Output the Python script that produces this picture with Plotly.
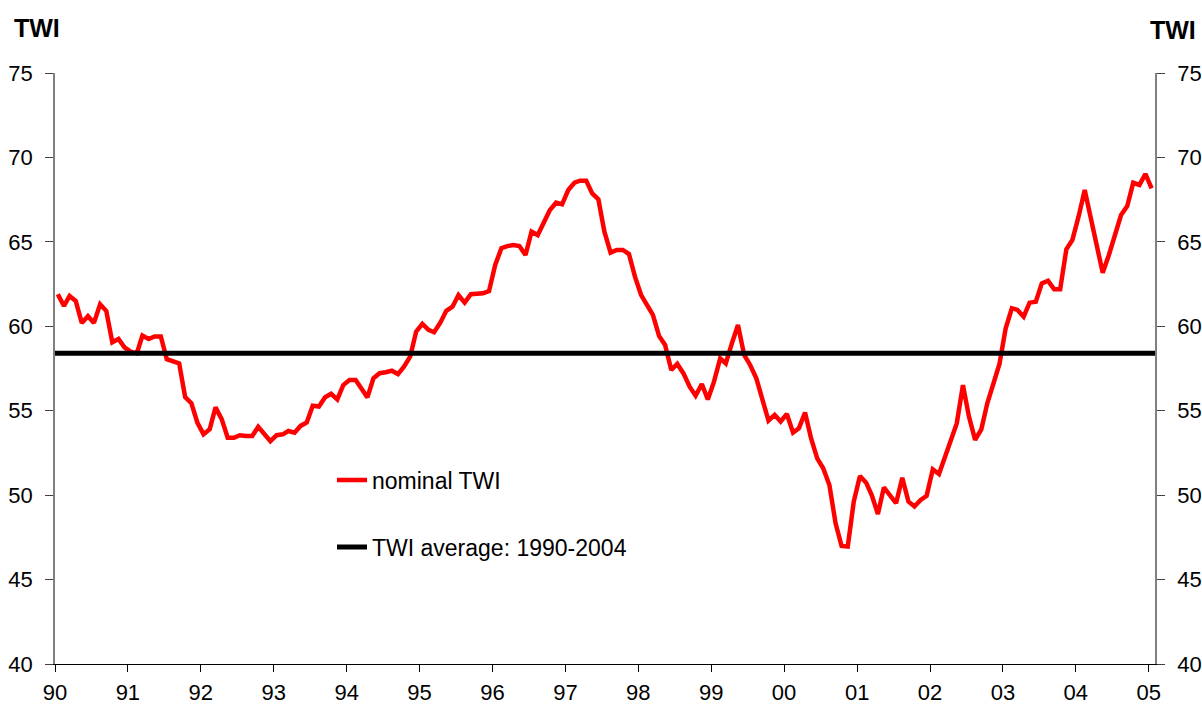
import pandas as pd
import plotly.graph_objects as go

# Monthly nominal TWI, Jan 1990 .. Jan 2005
TWI_1990_1993 = [61.9, 61.2, 61.8, 61.5, 60.2, 60.6, 60.2, 61.3, 60.9, 59.05, 59.25, 58.75,
                 58.5, 58.4, 59.45, 59.25, 59.4, 59.4, 58.05, 57.95, 57.8, 55.8, 55.45, 54.3,
                 53.6, 53.9, 55.2, 54.5, 53.4, 53.4, 53.55, 53.5, 53.5, 54.05, 53.6, 53.2,
                 53.55, 53.6, 53.8, 53.7, 54.1, 54.3, 55.3, 55.25, 55.8, 56.0, 55.67, 56.52]
TWI_1994_1997 = [56.82, 56.82, 56.33, 55.79, 56.92, 57.22, 57.28, 57.37, 57.17, 57.61, 58.2, 59.68,
                 60.14, 59.79, 59.65, 60.21, 60.92, 61.16, 61.85, 61.4, 61.9, 61.95, 61.95, 62.08,
                 63.63, 64.62, 64.75, 64.81, 64.75, 64.22, 65.6, 65.4, 66.1, 66.89, 67.32, 67.22,
                 68.07, 68.5, 68.62, 68.62, 67.87, 67.51, 65.6, 64.36, 64.52, 64.52, 64.28, 62.94]
TWI_1998_2001 = [61.85, 61.26, 60.67, 59.42, 58.9, 57.41, 57.77, 57.21, 56.42, 55.89, 56.58, 55.67,
                 56.72, 58.1, 57.8, 59.0, 60.08, 58.3, 57.71, 56.92, 55.74, 54.41, 54.75, 54.36,
                 54.81, 53.7, 53.96, 54.89, 53.37, 52.18, 51.59, 50.6, 48.33, 46.99, 46.95, 49.61,
                 51.13, 50.74, 50.01, 48.88, 50.46, 50.01, 49.52, 51.03, 49.62, 49.33, 49.72, 49.96]
TWI_2002_2005 = [51.53, 51.25, 52.18, 53.07, 54.25, 56.52, 54.65, 53.27, 53.9, 55.44, 56.66, 57.77,
                 59.88, 61.07, 60.97, 60.57, 61.4, 61.46, 62.54, 62.7, 62.19, 62.19, 64.56, 65.11,
                 66.49, 68.07, 66.49, 64.81, 63.17, 64.22, 65.4, 66.59, 67.12, 68.5, 68.37, 69.02,
                 68.17]
nominal_twi = TWI_1990_1993 + TWI_1994_1997 + TWI_1998_2001 + TWI_2002_2005

TWI_AVERAGE = 58.4

months = pd.date_range(start="1990-01-01", periods=len(nominal_twi), freq="MS") + pd.Timedelta(days=14)

YEAR_TICKS = [f"{y}-01-01" for y in range(1990, 2006)]
YEAR_LABELS = ["90", "91", "92", "93", "94", "95", "96", "97", "98", "99",
               "00", "01", "02", "03", "04", "05"]

FONT = "Liberation Sans, Arial, sans-serif"

fig = go.Figure()
fig.add_trace(go.Scatter(
    x=months, y=nominal_twi, mode="lines", name="nominal TWI",
    line=dict(color="#FF0000", width=4.5), legend="legend", showlegend=True))
fig.add_trace(go.Scatter(
    x=["1990-01-01", "2005-02-01"], y=[TWI_AVERAGE, TWI_AVERAGE], mode="lines",
    name="TWI average: 1990-2004", yaxis="y2",
    line=dict(color="#000000", width=5), legend="legend2", showlegend=True))

L, R, T, B = 55, 47, 73, 40
W, H = 1202, 704
pw, ph = W - L - R, H - T - B

def px_x(px):
    return (px - L) / pw

def px_y(py):
    return (H - B - py) / ph

axis_font = dict(size=22, family=FONT, color="black")

fig.update_layout(
    width=W, height=H,
    margin=dict(l=L, r=R, t=T, b=B, pad=0, autoexpand=False),
    paper_bgcolor="white", plot_bgcolor="white",
    font=dict(family=FONT, size=22, color="black"),
    showlegend=True,
    legend=dict(x=px_x(332), y=px_y(480), xanchor="left", yanchor="middle",
                bgcolor="rgba(0,0,0,0)", font=dict(size=23, family=FONT)),
    legend2=dict(x=px_x(332), y=px_y(547), xanchor="left", yanchor="middle",
                 bgcolor="rgba(0,0,0,0)", font=dict(size=23, family=FONT)),
    xaxis=dict(
        type="date", range=["1990-01-01", "2005-02-01"],
        tickmode="array", tickvals=YEAR_TICKS, ticktext=YEAR_LABELS,
        ticks="outside", ticklen=7, tickcolor="black", tickwidth=1,
        showline=True, linecolor="black", linewidth=1,
        showgrid=False, zeroline=False, ticklabelstandoff=2,
        tickfont=axis_font),
    yaxis=dict(
        range=[40, 75], dtick=5, tick0=40,
        ticks="outside", ticklen=8, tickcolor="#404040", tickwidth=1,
        showline=True, linecolor="#808080", linewidth=1.5,
        showgrid=False, zeroline=False, ticklabelstandoff=8,
        tickfont=axis_font),
    yaxis2=dict(
        range=[40, 75], dtick=5, tick0=40, overlaying="y", side="right", anchor="x",
        ticks="outside", ticklen=8, tickcolor="#404040", tickwidth=1,
        showline=True, linecolor="#808080", linewidth=1.5,
        showgrid=False, zeroline=False, ticklabelstandoff=8,
        tickfont=axis_font),
    annotations=[
        dict(text="<b>TWI</b>", xref="paper", yref="paper", x=px_x(12), y=px_y(28),
             xanchor="left", yanchor="middle", showarrow=False,
             font=dict(size=25, family=FONT)),
        dict(text="<b>TWI</b>", xref="paper", yref="paper", x=px_x(1198), y=px_y(30),
             xanchor="right", yanchor="middle", showarrow=False,
             font=dict(size=25, family=FONT)),
    ],
)

fig.write_html("out.html", config={"displayModeBar": False},
               post_script="document.body.style.margin='0';")
